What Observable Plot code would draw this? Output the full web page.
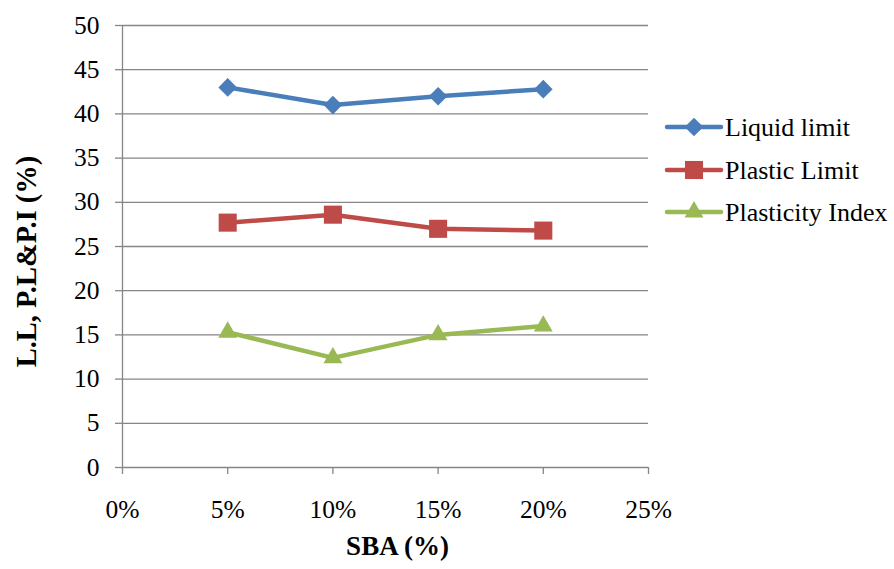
<!DOCTYPE html>
<html>
<head>
<meta charset="utf-8">
<script src="https://cdn.jsdelivr.net/npm/d3@7"></script>
<script src="https://cdn.jsdelivr.net/npm/@observablehq/plot@0.6"></script>
<style>
  html, body { margin: 0; padding: 0; background: #fff; }
  #wrap { position: relative; width: 894px; height: 569px; font-family: "Liberation Serif", serif; }
  #legend { position: absolute; left: 0; top: 0; }
</style>
</head>
<body>
<div id="wrap"></div>
<script>
// SBA content (fraction) and Atterberg limits (%)
const sba = [0.05, 0.10, 0.15, 0.20];
const liquidLimit = [43.0, 41.0, 42.0, 42.8];
const plasticLimit = [27.7, 28.6, 27.0, 26.8];
const plasticityIndex = [15.3, 12.4, 15.0, 16.0];

const seriesNames = ["Liquid limit", "Plastic Limit", "Plasticity Index"];
const seriesColors = ["#4a7ebb", "#be4b48", "#98b954"];
const seriesSymbols = ["diamond2", "square", "triangle"];
const seriesR = [8.4, 10.2, 7.0];

const xTicks = [0, 0.05, 0.10, 0.15, 0.20, 0.25];
const yTicks = [0, 5, 10, 15, 20, 25, 30, 35, 40, 45, 50];

const values = [liquidLimit, plasticLimit, plasticityIndex];
const rows = values.flatMap((vals, s) =>
  vals.map((v, i) => ({series: seriesNames[s], x: sba[i], y: v}))
);

const font = "'Liberation Serif', serif";
const grey = "#868686";

const marks = [
  // horizontal gridlines
  Plot.ruleY(yTicks, {stroke: grey, strokeWidth: 1.3}),
  // vertical axis line
  Plot.ruleX([0], {stroke: grey, strokeWidth: 1.3}),
  Plot.axisY({ticks: yTicks, tickSize: 7, tickPadding: 16, stroke: grey, strokeWidth: 1.3,
    fill: "black", fontSize: 25.5, fontFamily: font, label: null}),
  Plot.axisX({ticks: xTicks, tickSize: 7, tickPadding: 25, stroke: grey, strokeWidth: 1.3,
    fill: "black", fontSize: 25.5, fontFamily: font, tickFormat: d3.format(".0%"), label: null}),
  Plot.text(["SBA (%)"], {frameAnchor: "bottom", dx: 12, dy: 87, fontSize: 27, fontWeight: "bold",
    fontFamily: font, fill: "black"}),
  Plot.text(["L.L, P.L&P.I (%)"], {frameAnchor: "left", dx: -96, dy: 15, rotate: -90, textAnchor: "middle",
    fontSize: 28.5, fontWeight: "bold", fontFamily: font, fill: "black"})
];

seriesNames.forEach((name, s) => {
  const d = rows.filter(r => r.series === name);
  marks.push(Plot.line(d, {x: "x", y: "y", stroke: seriesColors[s], strokeWidth: 4.5}));
  marks.push(Plot.dot(d, {x: "x", y: "y", symbol: () => seriesSymbols[s], r: seriesR[s], fill: seriesColors[s], stroke: "none"}));
});

const chart = Plot.plot({
  width: 894,
  height: 569,
  marginLeft: 122,
  marginRight: 246,
  marginTop: 25,
  marginBottom: 102,
  style: {fontFamily: font, background: "white", color: "black"},
  x: {domain: [0, 0.25]},
  y: {domain: [0, 50]},
  symbol: {type: "identity"},
  marks
});

document.getElementById("wrap").appendChild(chart);

// legend: line sample with its marker, then the series name
const legend = d3.select("#wrap").append("svg")
  .attr("id", "legend").attr("width", 894).attr("height", 569);
const legendY = [127, 170, 212];
seriesNames.forEach((name, s) => {
  const g = legend.append("g").attr("transform", `translate(0,${legendY[s]})`);
  g.append("line").attr("x1", 667).attr("x2", 721).attr("y1", 0).attr("y2", 0)
    .attr("stroke", seriesColors[s]).attr("stroke-width", 4.5).attr("stroke-linecap", "round");
  const sym = {diamond2: d3.symbolDiamond2, square: d3.symbolSquare, triangle: d3.symbolTriangle}[seriesSymbols[s]];
  g.append("path").attr("transform", "translate(694,0)")
    .attr("d", d3.symbol(sym, Math.PI * seriesR[s] * seriesR[s])())
    .attr("fill", seriesColors[s]);
  g.append("text").attr("x", 725).attr("y", 0).attr("dy", "0.35em")
    .attr("font-family", font).attr("font-size", 26).attr("fill", "black").text(name);
});
</script>
</body>
</html>
